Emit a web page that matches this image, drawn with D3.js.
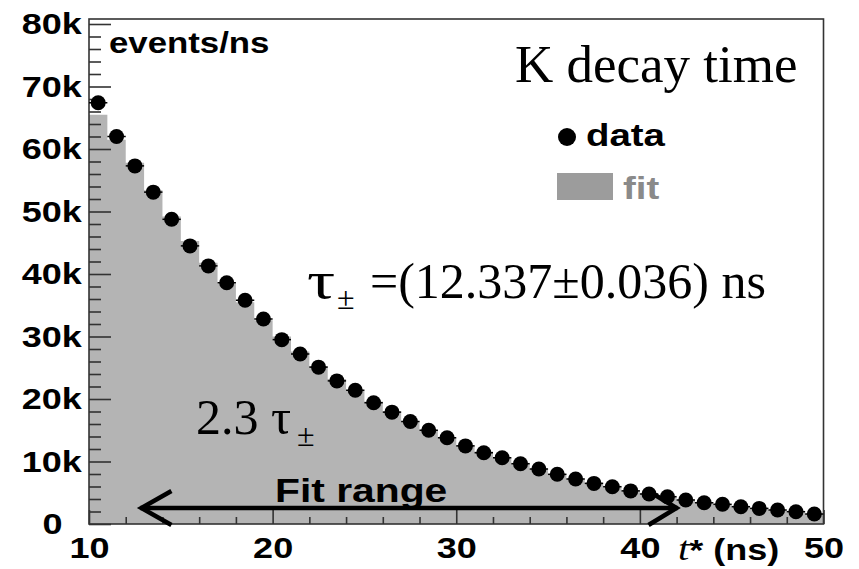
<!DOCTYPE html>
<html>
<head>
<meta charset="utf-8">
<script src="https://cdn.jsdelivr.net/npm/d3@7"></script>
<style>
  html, body { margin: 0; padding: 0; background: #fff; }
  svg { display: block; }
</style>
</head>
<body>
<svg id="decay-chart" width="859" height="569"></svg>
<script>
// lower edge of each 1 ns bin (ns)
const BIN_LOW = [10, 11, 12, 13, 14, 15, 16, 17, 18, 19,
  20, 21, 22, 23, 24, 25, 26, 27, 28, 29,
  30, 31, 32, 33, 34, 35, 36, 37, 38, 39,
  40, 41, 42, 43, 44, 45, 46, 47, 48, 49];
const BIN_WIDTH = 1;

// measured events/ns
const DATA_COUNTS = [67400, 62000, 57300, 53100, 48750, 44500, 41300, 38600, 35800, 32800,
  29500, 27200, 25100, 22900, 21400, 19400, 17900, 16400, 15000, 13800,
  12500, 11400, 10600, 9650, 8800, 7950, 7200, 6500, 5970, 5300,
  4800, 4370, 3840, 3400, 3150, 2770, 2500, 2240, 1970, 1600];

// fitted events/ns
const FIT_COUNTS = [65500, 61500, 57800, 53400, 49200, 45300, 41800, 38500, 35500, 32600,
  30000, 27600, 25300, 23200, 21300, 19600, 18000, 16500, 15100, 13800,
  12600, 11600, 10600, 9700, 8800, 8000, 7300, 6600, 6000, 5400,
  4900, 4400, 3900, 3500, 3100, 2800, 2500, 2200, 1900, 1600];

const X_TICKS = [10, 20, 30, 40, 50];
const X_MINOR = [12, 14, 16, 18, 22, 24, 26, 28, 32, 34, 36, 38, 42, 44, 46, 48];
const Y_TICKS = [0, 10000, 20000, 30000, 40000, 50000, 60000, 70000, 80000];
const Y_MINOR = [2000, 4000, 6000, 8000, 12000, 14000, 16000, 18000,
  22000, 24000, 26000, 28000, 32000, 34000, 36000, 38000,
  42000, 44000, 46000, 48000, 52000, 54000, 56000, 58000,
  62000, 64000, 66000, 68000, 72000, 74000, 76000, 78000];
const X_DOMAIN = [10, 50];
const Y_DOMAIN = [0, 80800];
const FIT_RANGE = [12.8, 42.05];

const svg = d3.select("#decay-chart");
const width = 859;
const height = 569;
svg.attr("viewBox", `0 0 ${width} ${height}`);

const PLOT = { left: 89, right: 823.5, top: 19, bottom: 524 };
const SANS = "'Liberation Sans', Arial, sans-serif";
const SERIF = "'Liberation Serif', 'Times New Roman', serif";
const STRETCH = 1.2;
const FIT_GRAY = "#b4b4b4";
const AXIS_COLOR = "#333";

const x = d3.scaleLinear().domain(X_DOMAIN).range([PLOT.left, PLOT.right]);
const y = d3.scaleLinear().domain(Y_DOMAIN).range([PLOT.bottom, PLOT.top]);

// fit histogram as a filled step area
const fitPoints = BIN_LOW.map((b, i) => [b, FIT_COUNTS[i]]);
fitPoints.push([BIN_LOW[BIN_LOW.length - 1] + BIN_WIDTH, FIT_COUNTS[FIT_COUNTS.length - 1]]);

const area = d3.area()
  .curve(d3.curveStepAfter)
  .x((d) => x(d[0]))
  .y0(y(0))
  .y1((d) => y(d[1]));

svg.append("path")
  .datum(fitPoints)
  .attr("d", area)
  .attr("fill", FIT_GRAY);

// axes (ticks drawn inside the frame)
function styleAxis(g) {
  g.select(".domain").remove();
  g.selectAll(".tick line").attr("stroke", AXIS_COLOR).attr("stroke-width", 1.6);
}

svg.append("g")
  .attr("transform", `translate(${PLOT.left},0)`)
  .call(d3.axisLeft(y).tickValues(Y_MINOR).tickSize(-12).tickFormat(""))
  .call(styleAxis);

const yAxis = svg.append("g")
  .attr("transform", `translate(${PLOT.left},0)`)
  .call(d3.axisLeft(y).tickValues(Y_TICKS).tickSize(-22).tickPadding(6)
    .tickFormat((d) => (d === 0 ? "0" : `${d / 1000}k`)))
  .call(styleAxis);

yAxis.selectAll(".tick text")
  .attr("font-family", SANS)
  .attr("font-weight", "bold")
  .attr("font-size", 30)
  .attr("fill", "#000")
  .attr("dx", (d) => (d === 0 ? -16 : 0))
  .attr("transform", `scale(${STRETCH},1)`);

svg.append("g")
  .attr("transform", `translate(0,${PLOT.bottom})`)
  .call(d3.axisBottom(x).tickValues(X_MINOR).tickSize(-7).tickFormat(""))
  .call(styleAxis);

const xAxis = svg.append("g")
  .attr("transform", `translate(0,${PLOT.bottom})`)
  .call(d3.axisBottom(x).tickValues(X_TICKS).tickSize(-14).tickPadding(13))
  .call(styleAxis);

xAxis.selectAll(".tick text")
  .attr("font-family", SANS)
  .attr("font-weight", "bold")
  .attr("font-size", 30)
  .attr("fill", "#000")
  .attr("transform", `scale(${STRETCH},1)`);

// frame
svg.append("rect")
  .attr("x", PLOT.left)
  .attr("y", PLOT.top)
  .attr("width", PLOT.right - PLOT.left)
  .attr("height", PLOT.bottom - PLOT.top)
  .attr("fill", "none")
  .attr("stroke", AXIS_COLOR)
  .attr("stroke-width", 1.6);

// fit range arrow
const ARROW_Y = 508;
const arrow = svg.append("g")
  .attr("stroke", "#000")
  .attr("stroke-width", 4.5)
  .attr("fill", "none")
  .attr("stroke-linecap", "butt");

const ax0 = x(FIT_RANGE[0]);
const ax1 = x(FIT_RANGE[1]);
arrow.append("line").attr("x1", ax0).attr("x2", ax1).attr("y1", ARROW_Y).attr("y2", ARROW_Y);
arrow.append("path").attr("d", `M${ax0 + 31},${ARROW_Y - 17} L${ax0 + 1},${ARROW_Y} L${ax0 + 31},${ARROW_Y + 17}`);
arrow.append("path").attr("d", `M${ax1 - 29},${ARROW_Y - 17} L${ax1 - 1},${ARROW_Y} L${ax1 - 29},${ARROW_Y + 17}`);

// data points with bin-width error bars
const points = svg.append("g");
points.selectAll("line")
  .data(BIN_LOW)
  .join("line")
  .attr("x1", (d) => x(d))
  .attr("x2", (d) => x(d + BIN_WIDTH))
  .attr("y1", (d, i) => y(DATA_COUNTS[i]))
  .attr("y2", (d, i) => y(DATA_COUNTS[i]))
  .attr("stroke", "#000")
  .attr("stroke-width", 1.5);

points.selectAll("circle")
  .data(BIN_LOW)
  .join("circle")
  .attr("cx", (d) => x(d + BIN_WIDTH / 2))
  .attr("cy", (d, i) => y(DATA_COUNTS[i]))
  .attr("r", 7.5)
  .attr("fill", "#000");

// helpers for the labels
function sansLabel(px, py, str, size, color) {
  return svg.append("text")
    .attr("transform", `translate(${px},${py}) scale(${STRETCH},1)`)
    .attr("font-family", SANS)
    .attr("font-weight", "bold")
    .attr("font-size", size)
    .attr("fill", color || "#000")
    .text(str);
}

function serifLabel(px, py, str, size) {
  return svg.append("text")
    .attr("x", px)
    .attr("y", py)
    .attr("font-family", SERIF)
    .attr("font-size", size)
    .attr("fill", "#000")
    .text(str);
}

sansLabel(109, 53, "events/ns", 29);
serifLabel(515, 82, "K decay time", 53);

// legend
svg.append("circle").attr("cx", 567).attr("cy", 137).attr("r", 9).attr("fill", "#000");
sansLabel(586, 146, "data", 32);
svg.append("rect").attr("x", 557).attr("y", 173).attr("width", 56).attr("height", 27).attr("fill", "#9c9c9c");
sansLabel(623, 199, "fit", 32, "#8a8a8a");

// lifetime result
svg.append("text")
  .attr("transform", "translate(307,298) scale(1.35,1)")
  .attr("font-family", SERIF)
  .attr("font-size", 52)
  .text("τ");
serifLabel(337, 309, "±", 32);
serifLabel(370, 298, "=(12.337±0.036) ns", 50);

// 2.3 tau annotation
serifLabel(196, 434, "2.3 τ", 50);
serifLabel(297, 446, "±", 32);

sansLabel(275, 502, "Fit range", 34);

// x axis title
const xTitle = svg.append("text")
  .attr("transform", `translate(678,560) scale(${STRETCH},1)`)
  .attr("font-size", 30)
  .attr("fill", "#000");
xTitle.append("tspan").attr("font-family", SERIF).attr("font-style", "italic").attr("font-size", 34).text("t");
xTitle.append("tspan").attr("font-family", SANS).attr("font-weight", "bold").text("* (ns)");
</script>
</body>
</html>
